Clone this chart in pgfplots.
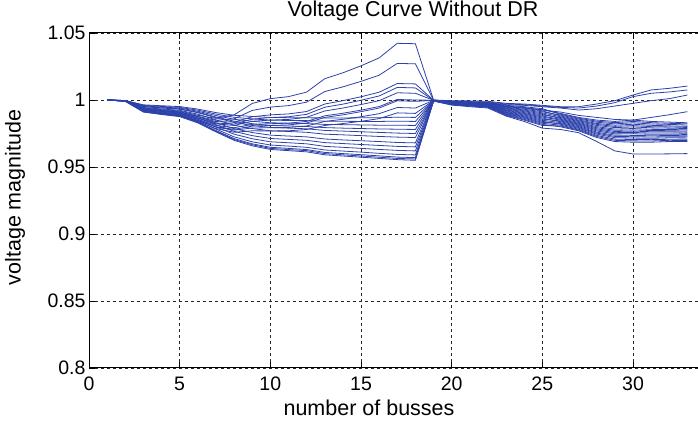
\documentclass[border=0pt]{standalone}
\usepackage{fontspec}
\setmainfont{Liberation Sans}
\usepackage{pgfplots}
\usepackage{pgfplotstable}
\pgfplotsset{compat=1.18}
\definecolor{mblue}{RGB}{45,65,170}
\pgfplotstableread{
bus L1 L2 L3 L4 L5 L6 L7 L8 L9 L10 L11 L12 L13 L14 L15 L16 L17 L18 L19 L20 L21 L22
1 1.0000 1.0000 1.0000 1.0000 1.0000 1.0000 1.0000 1.0000 1.0000 1.0000 1.0000 1.0000 1.0000 1.0000 1.0000 1.0000 1.0000 1.0000 1.0000 1.0000 1.0000 1.0000
2 0.9994 0.9994 0.9993 0.9993 0.9993 0.9992 0.9992 0.9992 0.9992 0.9996 0.9996 0.9996 0.9995 0.9995 0.9994 0.9994 0.9993 0.9992 0.9992 0.9991 0.9991 0.9991
3 0.9940 0.9936 0.9934 0.9930 0.9928 0.9924 0.9920 0.9920 0.9916 0.9964 0.9960 0.9956 0.9952 0.9950 0.9944 0.9936 0.9930 0.9924 0.9918 0.9914 0.9912 0.9910
4 0.9928 0.9923 0.9921 0.9916 0.9914 0.9909 0.9904 0.9904 0.9899 0.9957 0.9952 0.9947 0.9942 0.9940 0.9933 0.9923 0.9916 0.9909 0.9902 0.9897 0.9894 0.9892
5 0.9918 0.9912 0.9909 0.9904 0.9901 0.9896 0.9890 0.9890 0.9885 0.9951 0.9945 0.9940 0.9934 0.9931 0.9923 0.9912 0.9904 0.9896 0.9887 0.9882 0.9879 0.9876
6 0.9886 0.9878 0.9875 0.9867 0.9863 0.9856 0.9848 0.9848 0.9840 0.9932 0.9924 0.9916 0.9909 0.9905 0.9894 0.9878 0.9867 0.9856 0.9844 0.9837 0.9833 0.9829
7 0.9863 0.9848 0.9839 0.9828 0.9822 0.9810 0.9800 0.9798 0.9787 0.9906 0.9895 0.9884 0.9873 0.9868 0.9852 0.9830 0.9815 0.9799 0.9783 0.9772 0.9767 0.9762
8 0.9889 0.9859 0.9835 0.9821 0.9810 0.9793 0.9781 0.9775 0.9759 0.9886 0.9871 0.9856 0.9842 0.9833 0.9812 0.9786 0.9766 0.9745 0.9725 0.9712 0.9705 0.9699
9 0.9974 0.9922 0.9875 0.9857 0.9841 0.9818 0.9805 0.9791 0.9770 0.9877 0.9859 0.9841 0.9823 0.9810 0.9787 0.9757 0.9734 0.9711 0.9688 0.9673 0.9666 0.9658
10 1.0010 0.9947 0.9889 0.9869 0.9850 0.9823 0.9810 0.9793 0.9769 0.9870 0.9850 0.9830 0.9810 0.9795 0.9770 0.9738 0.9713 0.9688 0.9664 0.9647 0.9639 0.9631
11 1.0025 0.9958 0.9896 0.9875 0.9855 0.9827 0.9814 0.9795 0.9770 0.9868 0.9847 0.9827 0.9806 0.9790 0.9765 0.9731 0.9706 0.9681 0.9656 0.9639 0.9630 0.9622
12 1.0059 0.9984 0.9914 0.9893 0.9871 0.9840 0.9828 0.9806 0.9780 0.9867 0.9846 0.9824 0.9802 0.9785 0.9759 0.9725 0.9699 0.9673 0.9647 0.9630 0.9622 0.9613
13 1.0159 1.0063 0.9970 0.9946 0.9918 0.9882 0.9870 0.9840 0.9810 0.9866 0.9842 0.9818 0.9794 0.9773 0.9745 0.9709 0.9682 0.9654 0.9627 0.9609 0.9600 0.9591
14 1.0203 1.0098 0.9995 0.9969 0.9940 0.9901 0.9889 0.9856 0.9824 0.9866 0.9841 0.9816 0.9790 0.9768 0.9740 0.9702 0.9675 0.9647 0.9619 0.9600 0.9591 0.9582
15 1.0255 1.0139 1.0024 0.9998 0.9966 0.9924 0.9913 0.9875 0.9841 0.9867 0.9840 0.9814 0.9787 0.9763 0.9734 0.9696 0.9668 0.9639 0.9611 0.9592 0.9582 0.9573
16 1.0314 1.0185 1.0058 1.0030 0.9995 0.9951 0.9940 0.9898 0.9861 0.9867 0.9840 0.9812 0.9784 0.9758 0.9728 0.9690 0.9661 0.9631 0.9602 0.9583 0.9573 0.9564
17 1.0423 1.0273 1.0123 1.0094 1.0054 1.0004 0.9994 0.9944 0.9904 0.9872 0.9842 0.9812 0.9782 0.9753 0.9723 0.9683 0.9654 0.9624 0.9594 0.9574 0.9564 0.9555
18 1.0420 1.0270 1.0120 1.0090 1.0050 1.0000 0.9990 0.9940 0.9900 0.9870 0.9840 0.9810 0.9780 0.9750 0.9720 0.9680 0.9650 0.9620 0.9590 0.9570 0.9560 0.9550
19 1.0000 1.0000 0.9998 0.9997 0.9998 0.9998 0.9997 0.9997 0.9997 0.9996 0.9996 0.9996 0.9996 0.9995 0.9995 0.9995 0.9994 0.9994 0.9994 0.9993 0.9993 0.9992
20 0.9995 0.9990 0.9988 0.9985 0.9990 0.9988 0.9987 0.9985 0.9984 0.9982 0.9981 0.9979 0.9978 0.9976 0.9974 0.9973 0.9971 0.9970 0.9968 0.9967 0.9965 0.9962
21 0.9993 0.9988 0.9985 0.9980 0.9985 0.9983 0.9981 0.9979 0.9978 0.9976 0.9974 0.9972 0.9970 0.9968 0.9966 0.9964 0.9963 0.9961 0.9959 0.9957 0.9955 0.9950
22 0.9990 0.9985 0.9980 0.9975 0.9980 0.9978 0.9976 0.9973 0.9971 0.9969 0.9967 0.9965 0.9963 0.9960 0.9958 0.9956 0.9954 0.9952 0.9949 0.9947 0.9945 0.9940
23 0.9975 0.9970 0.9965 0.9950 0.9960 0.9955 0.9951 0.9946 0.9941 0.9937 0.9932 0.9927 0.9923 0.9918 0.9913 0.9908 0.9904 0.9899 0.9894 0.9890 0.9885 0.9880
24 0.9970 0.9965 0.9960 0.9940 0.9950 0.9944 0.9938 0.9931 0.9925 0.9919 0.9913 0.9906 0.9900 0.9894 0.9888 0.9881 0.9875 0.9869 0.9863 0.9856 0.9850 0.9840
25 0.9960 0.9955 0.9950 0.9925 0.9935 0.9927 0.9919 0.9912 0.9904 0.9896 0.9888 0.9880 0.9873 0.9865 0.9857 0.9849 0.9841 0.9833 0.9826 0.9818 0.9810 0.9790
26 0.9950 0.9945 0.9940 0.9910 0.9894 0.9900 0.9881 0.9888 0.9875 0.9862 0.9869 0.9856 0.9850 0.9838 0.9844 0.9831 0.9819 0.9825 0.9812 0.9800 0.9806 0.9780
27 0.9950 0.9940 0.9925 0.9885 0.9864 0.9870 0.9851 0.9858 0.9845 0.9832 0.9839 0.9826 0.9820 0.9808 0.9814 0.9801 0.9789 0.9795 0.9782 0.9770 0.9776 0.9756
28 0.9970 0.9955 0.9935 0.9870 0.9842 0.9850 0.9825 0.9834 0.9818 0.9801 0.9810 0.9793 0.9785 0.9769 0.9777 0.9760 0.9745 0.9753 0.9736 0.9720 0.9728 0.9690
29 0.9995 0.9980 0.9955 0.9855 0.9831 0.9840 0.9812 0.9822 0.9803 0.9783 0.9794 0.9774 0.9765 0.9747 0.9756 0.9737 0.9719 0.9728 0.9708 0.9690 0.9699 0.9620
30 1.0037 1.0025 0.9975 0.9850 0.9840 0.9850 0.9819 0.9830 0.9809 0.9787 0.9799 0.9777 0.9768 0.9748 0.9758 0.9736 0.9716 0.9726 0.9705 0.9685 0.9695 0.9597
31 1.0075 1.0050 0.9995 0.9870 0.9831 0.9840 0.9811 0.9821 0.9801 0.9781 0.9792 0.9772 0.9763 0.9744 0.9753 0.9733 0.9714 0.9724 0.9704 0.9685 0.9694 0.9597
32 1.0087 1.0060 1.0010 0.9890 0.9826 0.9835 0.9807 0.9818 0.9799 0.9780 0.9790 0.9771 0.9763 0.9745 0.9754 0.9735 0.9718 0.9726 0.9707 0.9690 0.9699 0.9598
33 1.0104 1.0075 1.0037 0.9913 0.9822 0.9830 0.9803 0.9813 0.9795 0.9777 0.9787 0.9768 0.9760 0.9743 0.9752 0.9733 0.9717 0.9725 0.9707 0.9690 0.9698 0.9600
}\data
\begin{document}
\begin{tikzpicture}[x=1pt,y=1pt]
\useasboundingbox (0,0) rectangle (698,425);
\begin{axis}[
  at={(89pt,57pt)}, anchor=south west,
  scale only axis, width=634.67pt, height=335pt,
  xmin=0, xmax=35, ymin=0.8, ymax=1.05,
  xtick={0,5,10,15,20,25,30},
  xticklabels={0,5,10,15,20,25,30},
  ytick={0.8,0.85,0.9,0.95,1,1.05},
  yticklabels={0.8,0.85,0.9,0.95,1,1.05},
  grid=major,
  major grid style={black!85, line width=0.6pt, dash pattern=on 3pt off 3pt},
  axis line style={black, line width=1pt},
  tick style={black, line width=0.8pt},
  tick align=inside, major tick length=6pt,
  ticklabel style={font=\fontsize{19.5}{20}\selectfont},
  /pgf/number format/assume math mode=true,
  xticklabel style={anchor=base, yshift=-22.7pt, inner sep=0pt},
  title={Voltage Curve Without DR},
  title style={at={(axis description cs:0.5105,1.0328)}, anchor=base, font=\fontsize{21.5}{22}\selectfont, inner sep=0pt},
  xlabel={number of busses},
  xlabel style={at={(axis description cs:0.4412,-0.1424)}, anchor=base, font=\fontsize{21.5}{22}\selectfont, inner sep=0pt},
  ylabel={voltage magnitude},
  ylabel style={at={(axis description cs:-0.1079,0.509)}, anchor=base, rotate=0, font=\fontsize{21.5}{22}\selectfont, inner sep=0pt},
]
\pgfplotsinvokeforeach{1,...,22}{
  \addplot[mblue, line width=0.8pt, mark=none, solid] table[x=bus, y=L#1] {\data};
}
\end{axis}
\end{tikzpicture}
\end{document}
